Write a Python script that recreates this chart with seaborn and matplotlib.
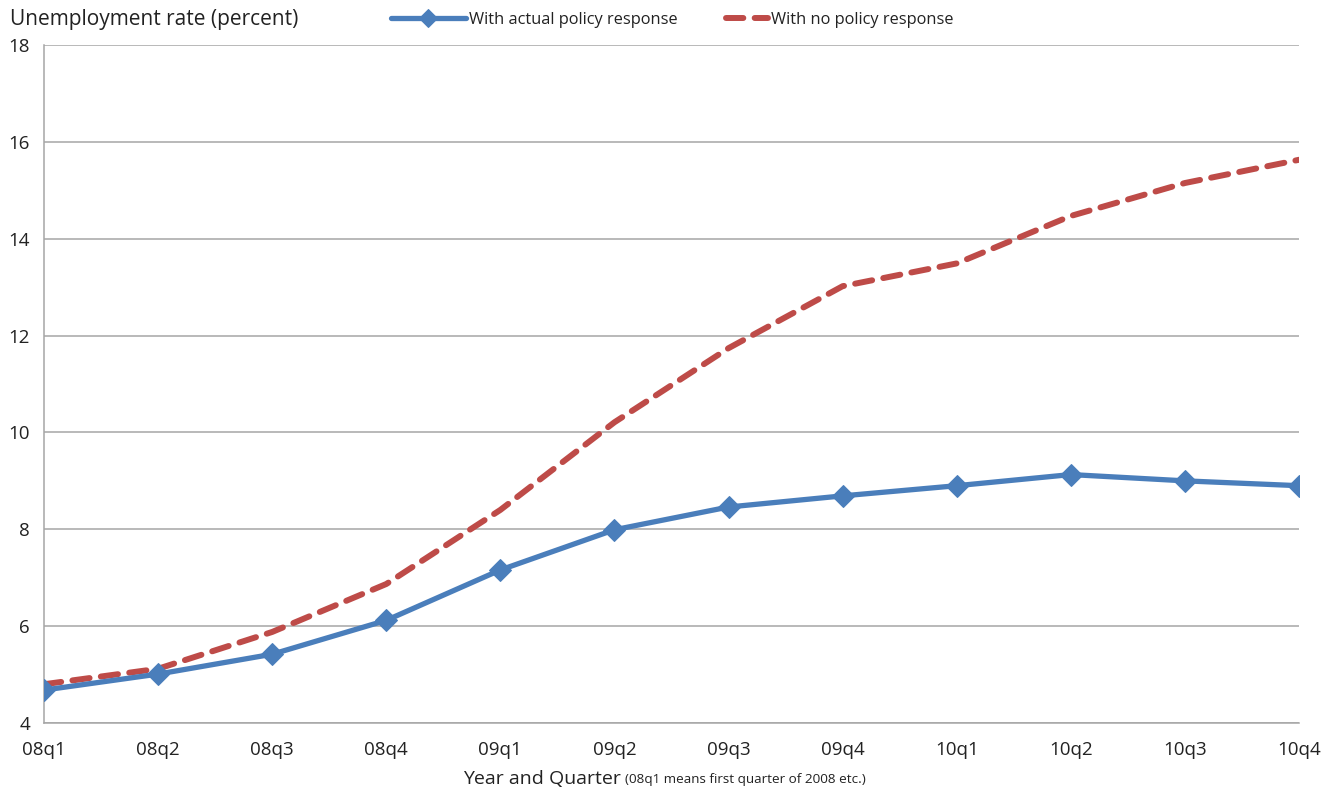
import matplotlib
matplotlib.use("Agg")
import matplotlib.pyplot as plt
import seaborn as sns
import pandas as pd

quarters = ["08q1", "08q2", "08q3", "08q4", "09q1", "09q2",
            "09q3", "09q4", "10q1", "10q2", "10q3", "10q4"]
actual = [4.68, 5.01, 5.42, 6.12, 7.16, 7.99, 8.46, 8.69, 8.90, 9.13, 9.00, 8.90]
no_policy = [4.80, 5.12, 5.88, 6.87, 8.40, 10.21, 11.74, 13.02, 13.49, 14.47, 15.15, 15.63]
yticks = [4, 6, 8, 10, 12, 14, 16, 18]

sns.set_style("white")
plt.rcParams["font.family"] = ["Open Sans", "DejaVu Sans"]

blue = "#4A7EBB"
red = "#BE4B48"
grid = "#A6A6A6"
txt = "#222222"

df = pd.DataFrame({"q": quarters, "actual": actual, "nopol": no_policy})
df["x"] = range(len(quarters))

fig = plt.figure(figsize=(13.28, 7.9), dpi=100)
ax = fig.add_axes([44 / 1328, 1 - 723 / 790, (1299 - 44) / 1328, (723 - 45) / 790])

sns.lineplot(data=df, x="x", y="nopol", ax=ax, color=red, linewidth=4.3,
             label="With no policy response", zorder=3)
ln_red = ax.lines[-1]
ln_red.set_dashes((2.9, 1.9))
ln_red.set_dash_capstyle("round")

sns.lineplot(data=df, x="x", y="actual", ax=ax, color=blue, linewidth=3.8,
             marker="D", markersize=11, markeredgecolor=blue,
             label="With actual policy response", zorder=4)

ax.set_xlim(0, len(quarters) - 1)
ax.set_ylim(4, 18)
ax.set_xticks(range(len(quarters)))
ax.set_xticklabels(quarters)
ax.set_yticks(yticks)
ax.yaxis.grid(True, color=grid, linewidth=1.1)
ax.xaxis.grid(False)
for s in ["top", "right"]:
    ax.spines[s].set_visible(False)
for s in ["left", "bottom"]:
    ax.spines[s].set_color(grid)
    ax.spines[s].set_linewidth(1.1)
ax.tick_params(axis="both", which="major", direction="out", length=6,
               width=1.1, color=grid, labelsize=13.5, labelcolor=txt, pad=7)
ax.tick_params(axis="y", pad=4)
ax.set_xlabel("")
ax.set_ylabel("")

# two separate legends so each handle can have its own length
h, l = ax.get_legend_handles_labels()
ax.get_legend().remove()
fig.legend([h[1]], [l[1]], loc="center left",
           bbox_to_anchor=(376 / 1328, 1 - 20 / 790), frameon=False,
           fontsize=11.8, handlelength=4.6, handletextpad=0.15,
           labelcolor=txt, markerscale=0.85)
fig.legend([h[0]], [l[0]], loc="center left",
           bbox_to_anchor=(711 / 1328, 1 - 20 / 790), frameon=False,
           fontsize=11.8, handlelength=2.6, handletextpad=0.15,
           labelcolor=txt)

fig.text(10 / 1328, 1 - 20 / 790, "Unemployment rate (percent)", fontsize=15,
         ha="left", va="center", color=txt)
fig.text(621 / 1328, 1 - 779 / 790, "Year and Quarter", fontsize=14,
         ha="right", va="center", color=txt)
fig.text(625 / 1328, 1 - 780 / 790, "(08q1 means first quarter of 2008 etc.)",
         fontsize=9.7, ha="left", va="center", color=txt)

fig.savefig("out.png", dpi=100)
